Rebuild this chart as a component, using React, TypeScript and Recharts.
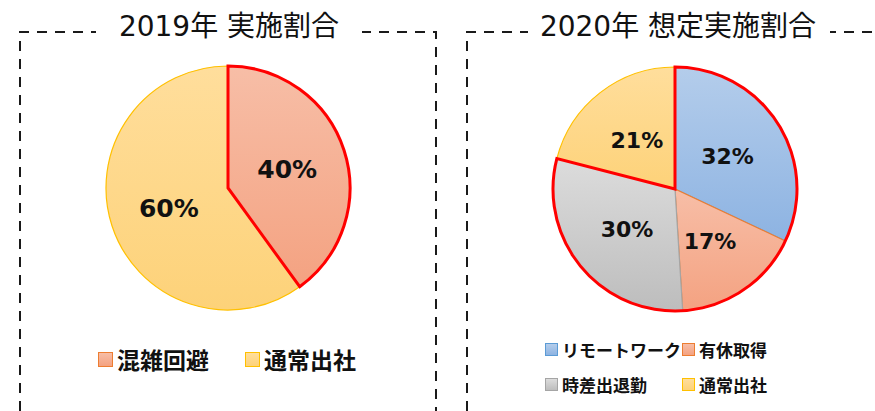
import { PieChart, Pie, Cell } from 'recharts';

const categories2019 = ['混雑回避', '通常出社'];
const values2019 = [40, 60];
const outlined2019 = [true, false];

const categories2020 = ['リモートワーク', '有休取得', '時差出退勤', '通常出社'];
const values2020 = [32, 17, 30, 21];
const outlined2020 = [true, true, true, false];

const titles = ['2019年 実施割合', '2020年 想定実施割合'];

const palette: Record<string, { id: string; top: string; bottom: string; line: string }> = {
  混雑回避: { id: 'gSalmon', top: '#F7BEA7', bottom: '#F4A281', line: '#ED7D31' },
  有休取得: { id: 'gSalmon', top: '#F7BEA7', bottom: '#F4A281', line: '#ED7D31' },
  通常出社: { id: 'gYellow', top: '#FFDE9C', bottom: '#FDD279', line: '#FFC000' },
  リモートワーク: { id: 'gBlue', top: '#B4CDEB', bottom: '#8DB3E2', line: '#5B9BD5' },
  時差出退勤: { id: 'gGray', top: '#DCDCDC', bottom: '#BDBDBD', line: '#A5A5A5' },
};

const NUM_FONT = '"DejaVu Sans", "Noto Sans CJK JP", sans-serif';
const JP_FONT = '"Noto Sans CJK JP", sans-serif';
const RADIAN = Math.PI / 180;

const toRows = (cats: string[], vals: number[]) => cats.map((name, i) => ({ name, value: vals[i] }));

// red outline around the leading group of slices
const outlineRows = (vals: number[], flags: boolean[]) => {
  const inside = vals.filter((_, i) => flags[i]).reduce((a, b) => a + b, 0);
  const outside = vals.filter((_, i) => !flags[i]).reduce((a, b) => a + b, 0);
  return [{ name: 'in', value: inside }, { name: 'out', value: outside }];
};

const makeLabel = (size: number) => (props: any) => {
  const { cx, cy, midAngle, outerRadius, value } = props;
  const r = outerRadius * 0.51;
  const x = cx + r * Math.cos(-midAngle * RADIAN);
  const y = cy + r * Math.sin(-midAngle * RADIAN);
  return (
    <text x={x} y={y + 1} textAnchor="middle" dominantBaseline="central" fill="#111"
      style={{ fontFamily: NUM_FONT, fontSize: size, fontWeight: 700 }}>
      {`${value}%`}
    </text>
  );
};

function LegendItem({ name, x, y, size, font }: { name: string; x: number; y: number; size: number; font: number }) {
  const c = palette[name];
  return (
    <div style={{ position: 'absolute', left: x, top: y - 15, height: 30, display: 'flex', alignItems: 'center' }}>
      <div style={{
        width: size, height: size, boxSizing: 'border-box',
        background: `linear-gradient(${c.top}, ${c.bottom})`, border: `1.5px solid ${c.line}`,
        marginRight: 4,
      }} />
      <span style={{ fontFamily: JP_FONT, fontSize: font, fontWeight: 700, color: '#111', whiteSpace: 'nowrap' }}>{name}</span>
    </div>
  );
}

export default function App() {
  const gradients = Object.values(palette).filter((c, i, arr) => arr.findIndex((d) => d.id === c.id) === i);
  return (
    <div style={{ position: 'fixed', left: 0, top: 0, width: 875, height: 411, background: '#fff', overflow: 'hidden' }}>
      <svg width={875} height={411} style={{ position: 'absolute', left: 0, top: 0 }}>
        <path d="M20,411 V32 H436 V411" fill="none" stroke="#1a1a1a" strokeWidth={2} strokeDasharray="10 8" />
        <path d="M467,411 V32 H875" fill="none" stroke="#1a1a1a" strokeWidth={2} strokeDasharray="10 8" />
        <rect x={96} y={18} width={266} height={26} fill="#fff" />
        <rect x={528} y={18} width={302} height={26} fill="#fff" />
        <text x={229} y={36} textAnchor="middle" fill="#111" style={{ fontFamily: NUM_FONT, fontSize: 28 }}>{titles[0]}</text>
        <text x={678} y={36} textAnchor="middle" fill="#111" style={{ fontFamily: NUM_FONT, fontSize: 28 }}>{titles[1]}</text>
      </svg>
      <div style={{ position: 'absolute', left: 0, top: 0 }}>
        <PieChart width={875} height={411} margin={{ top: 0, right: 0, bottom: 0, left: 0 }}>
          <defs>
            {gradients.map((c) => (
              <linearGradient key={c.id} id={c.id} x1="0" y1="0" x2="0" y2="1">
                <stop offset="0%" stopColor={c.top} />
                <stop offset="100%" stopColor={c.bottom} />
              </linearGradient>
            ))}
          </defs>
          <Pie data={toRows(categories2019, values2019)} dataKey="value" cx={228} cy={188} outerRadius={122}
            startAngle={90} endAngle={-270} isAnimationActive={false} labelLine={false} label={makeLabel(25)}>
            {categories2019.map((n) => (
              <Cell key={n} fill={`url(#${palette[n].id})`} stroke={palette[n].line} strokeWidth={1.2} />
            ))}
          </Pie>
          <Pie data={outlineRows(values2019, outlined2019)} dataKey="value" cx={228} cy={188} outerRadius={122}
            startAngle={90} endAngle={-270} isAnimationActive={false} legendType="none">
            <Cell fill="none" stroke="#FF0000" strokeWidth={3} />
            <Cell fill="none" stroke="none" />
          </Pie>
          <Pie data={toRows(categories2020, values2020)} dataKey="value" cx={675} cy={189} outerRadius={122}
            startAngle={90} endAngle={-270} isAnimationActive={false} labelLine={false} label={makeLabel(22)}>
            {categories2020.map((n) => (
              <Cell key={n} fill={`url(#${palette[n].id})`} stroke={palette[n].line} strokeWidth={1.2} />
            ))}
          </Pie>
          <Pie data={outlineRows(values2020, outlined2020)} dataKey="value" cx={675} cy={189} outerRadius={122}
            startAngle={90} endAngle={-270} isAnimationActive={false} legendType="none">
            <Cell fill="none" stroke="#FF0000" strokeWidth={3} />
            <Cell fill="none" stroke="none" />
          </Pie>
        </PieChart>
      </div>
      <LegendItem name={categories2019[0]} x={98} y={359} size={15} font={23} />
      <LegendItem name={categories2019[1]} x={245} y={359} size={15} font={23} />
      <LegendItem name={categories2020[0]} x={545} y={349} size={13} font={17} />
      <LegendItem name={categories2020[1]} x={682} y={349} size={13} font={17} />
      <LegendItem name={categories2020[2]} x={545} y={384} size={13} font={17} />
      <LegendItem name={categories2020[3]} x={682} y={384} size={13} font={17} />
    </div>
  );
}
